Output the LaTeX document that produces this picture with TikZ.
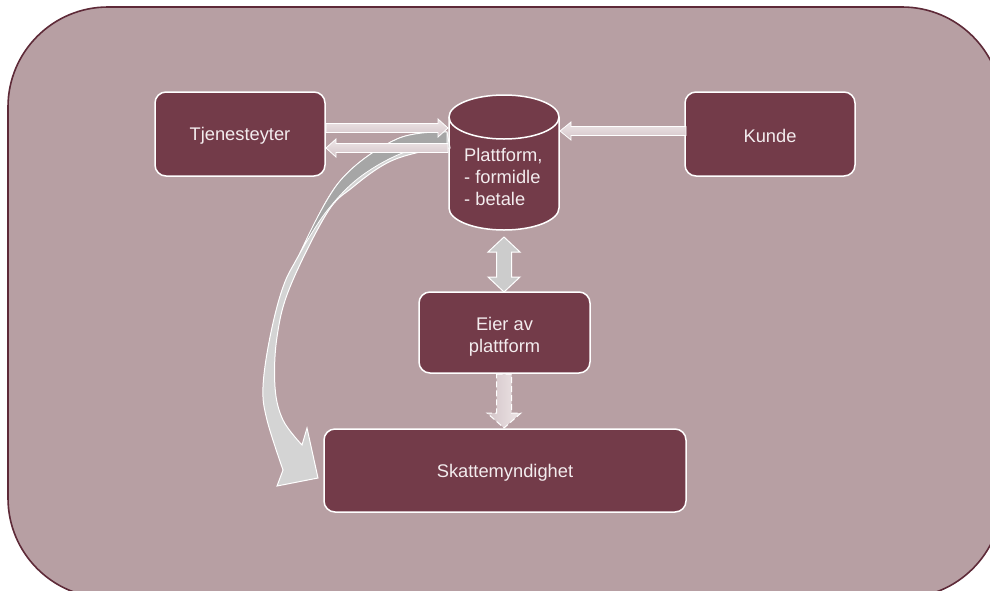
\documentclass[tikz,border=0pt]{standalone}
\usepackage{fontspec}
\setmainfont{Liberation Sans}
\definecolor{bgfill}{HTML}{B79FA3}
\definecolor{bgline}{HTML}{5E2A38}
\definecolor{boxfill}{HTML}{733B49}
\definecolor{txt}{HTML}{F3ECEE}
\definecolor{arrl}{HTML}{EEE6E8}
\definecolor{arrd}{HTML}{D3C4C7}
\definecolor{greyarr}{HTML}{CCCCCC}
\definecolor{curvel}{HTML}{D4D4D4}
\definecolor{curved}{HTML}{A6A6A6}
\tikzset{
  box/.style={draw=white, line width=1.5pt, fill=boxfill, rounded corners=11pt, inner sep=0pt},
  boxtext/.style={text=txt, font=\fontsize{18.3}{22}\selectfont, align=center, inner sep=0pt},
  plattext/.style={text=txt, font=\fontsize{18.3}{22}\selectfont, align=left, inner sep=0pt},
  cylbody/.style={draw=white, line width=1.5pt, fill=boxfill},
  harrow/.style={draw=white, line width=0.8pt, top color=arrl, bottom color=arrd},
  varrow/.style={draw=white, line width=1pt, fill=greyarr},
  dasharrow/.style={draw=white, line width=1pt, dash pattern=on 6pt off 3pt, left color=arrd, right color=arrl},
  curvearrowlight/.style={draw=white, line width=1pt, fill=curvel},
  curvearrowdark/.style={draw=white, line width=0.8pt, fill=curved},
}
\begin{document}
\begin{tikzpicture}[x=1pt,y=-1pt]
\useasboundingbox (0,0) rectangle (990,590);
\clip (0,0) rectangle (990,590);
% background
\path[fill=bgfill, draw=bgline, line width=1.6pt, rounded corners=100pt] (8,7) rectangle (1002,598);

% boxes
\node[box, minimum width=170pt, minimum height=84pt] (ty) at (240,134) {};
\node[boxtext] at ([yshift=-2pt]ty.center) {Tjenesteyter};
\node[box, minimum width=170pt, minimum height=84pt] (ku) at (770,134) {};
\node[boxtext] at ([yshift=-2pt]ku.center) {Kunde};
\node[box, minimum width=171pt, minimum height=81pt] (eier) at (504.5,332.5) {};
\node[boxtext] at ([yshift=-4pt]eier.center) {Eier av\\plattform};
\node[box, minimum width=362pt, minimum height=83pt] (skatt) at (505,470.5) {};
\node[boxtext] at ([yshift=-2pt]skatt.center) {Skattemyndighet};

% cylinder
\path[cylbody] (449,117) -- (449,208) arc[start angle=180, end angle=0, x radius=55, y radius=22]
  -- (559,117) arc[start angle=0, end angle=-180, x radius=55, y radius=22] -- cycle;
\draw[white, line width=1.5pt] (449,117) arc[start angle=180, end angle=0, x radius=55, y radius=22];
\node[plattext, anchor=west] (plat) at (464,177) {Plattform,\\- formidle\\- betale};

% curved arrow platform -> Skattemyndighet
\path[curvearrowlight] plot[smooth, tension=0.6] coordinates {(447,132) (397,139) (340,181) (300,253) (283,287) (270,337) (263,387) (267,420) (283,470)}
  -- (277,486) -- (318,478) -- (307,428) -- (302,445)
  -- plot[smooth, tension=0.6] coordinates {(302,445) (283,420) (275,387) (277,337) (290,287) (327,213) (353,187) (387,163) (420,152) (450,148)}
  -- cycle;
\path[curvearrowdark] plot[smooth, tension=0.6] coordinates {(447,132) (397,139) (340,181) (300,253)}
  -- plot[smooth, tension=0.6] coordinates {(300,253) (326,212) (360,177) (405,152) (447,145)} -- cycle;

% horizontal arrows
% Tjenesteyter -> Plattform
\path[harrow] (326,123.5) -- (438,123.5) -- (438,119) -- (448,128) -- (438,137) -- (438,132.5) -- (326,132.5) -- cycle;
% Plattform -> Tjenesteyter
\path[harrow] (448,143.5) -- (336,143.5) -- (336,139) -- (326,148) -- (336,157) -- (336,152.5) -- (448,152.5) -- cycle;
% Kunde -> Plattform
\path[harrow] (686,126.5) -- (571,126.5) -- (571,122) -- (560,131) -- (571,140) -- (571,135.5) -- (686,135.5) -- cycle;

% double arrow Plattform <-> Eier
\path[varrow] (504,237) -- (520,252) -- (511.5,252) -- (511.5,277) -- (520,277) -- (504,292)
  -- (488,277) -- (496.5,277) -- (496.5,252) -- (488,252) -- cycle;

% dashed arrow Eier -> Skatt
\path[dasharrow] (496.5,374) -- (511.5,374) -- (511.5,413) -- (521,413) -- (504,428) -- (487,413) -- (496.5,413) -- cycle;
\end{tikzpicture}
\end{document}
